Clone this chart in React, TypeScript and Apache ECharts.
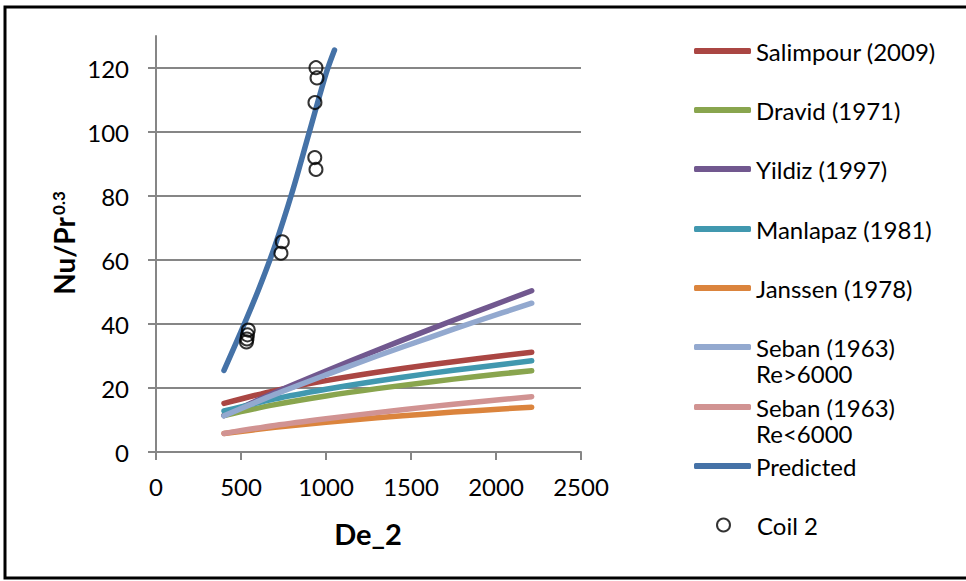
import React, { useEffect, useRef } from "react";
import * as echarts from "echarts";

// ---- data ----
const deLine = [400, 700, 1000, 1300, 1600, 1900, 2210];
const salimpour = [15.2, 19.2, 22.3, 24.9, 27.2, 29.2, 31.2];
const dravid = [11.4, 14.8, 17.5, 19.8, 21.8, 23.7, 25.4];
const yildiz = [11.4, 18.6, 25.3, 31.8, 38.1, 44.2, 50.4];
const manlapaz = [12.8, 16.6, 19.6, 22.2, 24.5, 26.5, 28.5];
const janssen = [5.8, 7.7, 9.3, 10.7, 11.9, 13.0, 14.0];
const sebanHigh = [11.3, 18.0, 24.1, 30.0, 35.6, 41.1, 46.5];
const sebanLow = [5.8, 8.3, 10.4, 12.3, 14.1, 15.7, 17.3];

const dePredicted = [400, 500, 600, 700, 800, 900, 1000, 1050];
const predicted = [25.5, 37.6, 50.3, 64.5, 81.0, 99.6, 118.2, 125.6];

const coilDe = [941, 947, 935, 934, 941, 743, 735, 543, 538, 535, 532];
const coilNu = [120.1, 116.9, 109.2, 92.0, 88.3, 65.7, 62.1, 38.1, 36.6, 35.3, 34.4];

const yTicks = [0, 20, 40, 60, 80, 100, 120];

const lineSeriesDefs = [
  { name: "Salimpour (2009)", color: "#AA4643", x: deLine, y: salimpour },
  { name: "Dravid (1971)", color: "#89A54E", x: deLine, y: dravid },
  { name: "Yildiz (1997)", color: "#71588F", x: deLine, y: yildiz },
  { name: "Manlapaz (1981)", color: "#4198AF", x: deLine, y: manlapaz },
  { name: "Janssen (1978)", color: "#DB843D", x: deLine, y: janssen },
  { name: "Seban (1963) Re>6000", color: "#93A9CF", x: deLine, y: sebanHigh },
  { name: "Seban (1963) Re<6000", color: "#D19392", x: deLine, y: sebanLow },
  { name: "Predicted", color: "#4572A7", x: dePredicted, y: predicted },
];
const coilName = "Coil 2";

const legendCenters = [51, 110, 169, 229, 288, 347, 407, 466, 525];

const FONT = "Lato";
const AXIS_GRAY = "#868686";

export default function App() {
  const ref = useRef<HTMLDivElement>(null);

  useEffect(() => {
    if (!ref.current) return;
    const chart = echarts.init(ref.current, undefined, { renderer: "svg" });

    const series: any[] = lineSeriesDefs.map((d) => ({
      name: d.name,
      type: "line",
      data: d.x.map((x, i) => [x, d.y[i]]),
      smooth: 0.3,
      showSymbol: false,
      symbol: "none",
      lineStyle: { color: d.color, width: 5.5, cap: "round", join: "round" },
      itemStyle: { color: d.color },
      z: 2,
    }));
    series.push({
      name: coilName,
      type: "scatter",
      data: coilDe.map((x, i) => [x, coilNu[i]]),
      symbol: "circle",
      symbolSize: 13,
      itemStyle: { color: "rgba(0,0,0,0)", borderColor: "#000", borderWidth: 2 },
      z: 5,
    });

    const textStyle = { fontFamily: FONT, fontSize: 24, color: "#000", lineHeight: 26 };
    const legends: any[] = [];
    lineSeriesDefs.forEach((d, i) => {
      const twoLine = d.name.startsWith("Seban");
      legends.push({
        data: [{ name: d.name }],
        orient: "vertical",
        left: 694,
        top: legendCenters[i] - (twoLine ? 39 : 13),
        padding: 0,
        itemWidth: 57,
        itemHeight: 6,
        icon: "roundRect",
        selectedMode: false,
        textStyle,
        formatter: (name: string) =>
          twoLine ? "\n" + name.replace(" Re", "\nRe") : name,
      });
    });
    legends.push({
      data: [
        {
          name: coilName,
          itemStyle: { color: "rgba(0,0,0,0)", borderColor: "#000", borderWidth: 2 },
        },
      ],
      orient: "vertical",
      left: 716,
      top: legendCenters[8] - 13,
      padding: 0,
      itemWidth: 57,
      itemHeight: 13,
      icon: "circle",
      selectedMode: false,
      textStyle,
    });

    chart.setOption({
      animation: false,
      backgroundColor: "#fff",
      grid: { left: 156, right: 385, top: 36, bottom: 129, containLabel: false },
      xAxis: {
        type: "value",
        min: 0,
        max: 2500,
        interval: 500,
        axisLine: { show: true, lineStyle: { color: AXIS_GRAY, width: 2 } },
        axisTick: { show: true, length: 8, lineStyle: { color: AXIS_GRAY, width: 2 } },
        axisLabel: {
          fontFamily: FONT,
          fontSize: 24,
          color: "#000",
          margin: 22,
          formatter: (v: number) => String(v),
        },
        splitLine: { show: false },
      },
      yAxis: {
        type: "value",
        min: 0,
        max: 130,
        interval: 20,
        axisLine: { show: true, lineStyle: { color: AXIS_GRAY, width: 2 } },
        axisTick: {
          show: true,
          length: 8,
          customValues: yTicks,
          lineStyle: { color: AXIS_GRAY, width: 2 },
        },
        axisLabel: {
          fontFamily: FONT,
          fontSize: 24,
          color: "#000",
          margin: 27,
          customValues: yTicks,
          formatter: (v: number) => (v > 120 ? "" : String(v)),
        },
        splitLine: {
          show: true,
          lineStyle: { color: AXIS_GRAY, width: 2 },
        },
      },
      legend: legends,
      series,
      graphic: [
        {
          type: "rect",
          shape: { x: 5, y: 7, width: 980, height: 571 },
          style: { fill: "none", stroke: "#000", lineWidth: 3 },
          silent: true,
          z: 100,
        },
        {
          type: "text",
          x: 64,
          y: 256,
          rotation: Math.PI / 2,
          style: {
            text: "Nu/Pr",
            fontFamily: FONT,
            fontWeight: "bold",
            fontSize: 28,
            fill: "#000",
            align: "center",
            verticalAlign: "middle",
          },
          z: 100,
        },
        {
          type: "text",
          x: 58,
          y: 203,
          rotation: Math.PI / 2,
          style: {
            text: "0.3",
            fontFamily: FONT,
            fontWeight: "bold",
            fontSize: 17,
            fill: "#000",
            align: "center",
            verticalAlign: "middle",
          },
          z: 100,
        },
        {
          type: "text",
          x: 368,
          y: 533,
          style: {
            text: "De_2",
            fontFamily: FONT,
            fontWeight: "bold",
            fontSize: 29,
            fill: "#000",
            align: "center",
            verticalAlign: "middle",
          },
          z: 100,
        },
      ],
    });

    return () => chart.dispose();
  }, []);

  return (
    <div
      ref={ref}
      style={{ position: "fixed", left: 0, top: 0, width: 966, height: 581 }}
    />
  );
}
